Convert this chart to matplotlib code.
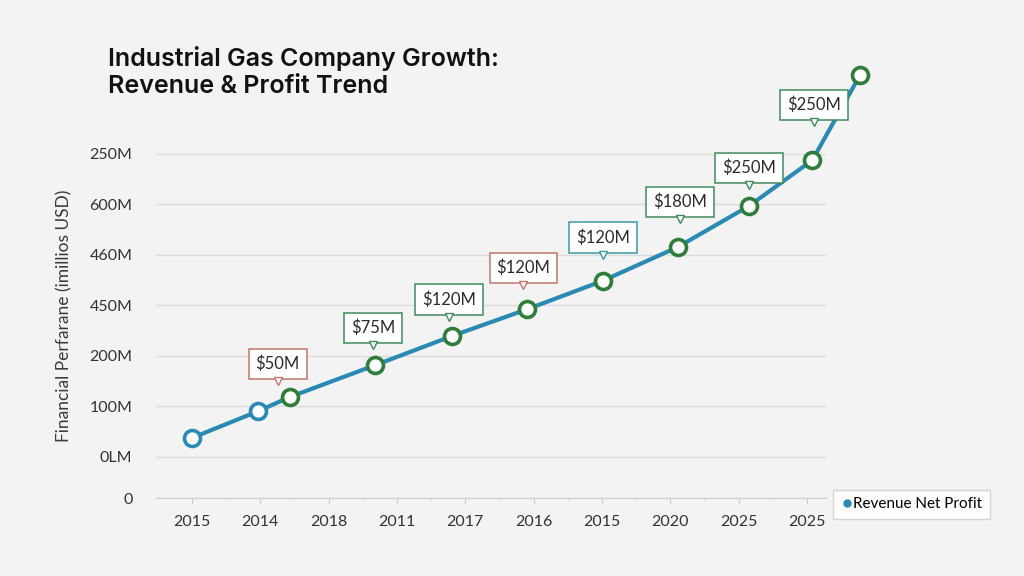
import matplotlib.pyplot as plt
import matplotlib.transforms as mtransforms
from matplotlib.lines import Line2D

# tick labels exactly as they read on the chart
year_labels = ['2015', '2014', '2018', '2011', '2017', '2016', '2015', '2020', '2025', '2025']
y_tick_pos = [0, 0.82, 1.82, 2.82, 3.82, 4.82, 5.82, 6.82]
y_tick_labels = ['0', '0LM', '100M', '200M', '450M', '460M', '600M', '250M']

# revenue points (x in tick-index units, y in gridline units)
rev_x = [0.0, 0.97, 1.43, 2.68, 3.81, 4.91, 6.01, 7.11, 8.15, 9.08, 9.78]
rev_y = [1.19, 1.72, 2.00, 2.63, 3.21, 3.74, 4.30, 4.97, 5.78, 6.69, 8.38]

# callouts attached to points 2..9
callout_idx = [2, 3, 4, 5, 6, 7, 8, 9]
callout_text = ['$50M', '$75M', '$120M', '$120M', '$120M', '$180M', '$250M', '$250M']
callout_kind = ['loss', 'gain', 'gain', 'loss', 'flat', 'gain', 'gain', 'gain']

BG = '#f3f3f3'
LINE = '#2a8ab4'
GREEN = '#2e7d3a'
kind_color = {'loss': '#c0766a', 'gain': '#3f8a5c', 'flat': '#3a9aa0'}

# pixel offsets of each pointer tip from its point (layout only)
tip_dx = [-12, -2, -3, -4, 0, 2, 0, 2]
tip_dy = [12, 16, 15, 20, 22, 24, 17, 34]

plt.rcParams['font.family'] = ['Lato', 'DejaVu Sans']

fig = plt.figure(figsize=(10.24, 5.76), dpi=100, facecolor=BG)
ax = fig.add_axes([156 / 1024, 1 - 498 / 576, 670 / 1024, 358 / 576])
ax.set_facecolor(BG)

ax.plot(rev_x, rev_y, color=LINE, lw=3, zorder=3, clip_on=False, solid_capstyle='round')
for i, (x, y) in enumerate(zip(rev_x, rev_y)):
    ec = LINE if i < 2 else GREEN
    ax.plot(x, y, 'o', ms=11.5, mfc='white', mec=ec, mew=2.6, zorder=4, clip_on=False)

for k, i in enumerate(callout_idx):
    col = kind_color[callout_kind[k]]
    ax.text(rev_x[i], rev_y[i], callout_text[k], transform=mtransforms.offset_copy(
                ax.transData, fig=fig, x=tip_dx[k], y=tip_dy[k] + 13, units='dots'),
            ha='center', va='bottom', fontsize=12, color='#2b2b2b', zorder=6,
            bbox=dict(boxstyle='square,pad=0.42', fc='white', ec=col, lw=1.1))
    ax.plot(rev_x[i], rev_y[i], marker='v', ms=6, mfc='white', mec=col, mew=1.0,
            transform=mtransforms.offset_copy(ax.transData, fig=fig, x=tip_dx[k],
                                              y=tip_dy[k] + 4, units='dots'),
            zorder=7, clip_on=False)

ax.set_yticks(y_tick_pos)
ax.set_yticklabels(y_tick_labels)
ax.set_xticks(range(len(year_labels)))
ax.set_xticklabels(year_labels)
ax.set_xticks([i + 0.5 for i in range(len(year_labels) - 1)], minor=True)
ax.tick_params(axis='y', length=0, pad=17, labelsize=11.5, labelcolor='#333333')
ax.tick_params(axis='x', which='major', length=4, color='#cccccc', pad=8,
               labelsize=11.5, labelcolor='#333333')
ax.tick_params(axis='x', which='minor', length=2, color='#dddddd')
ax.set_xlim(-0.527, 9.28)
ax.set_ylim(0, 7.09)

ax.grid(axis='y', color='#dcdcdc', lw=1)
ax.set_axisbelow(True)
for s in ['top', 'right', 'left']:
    ax.spines[s].set_visible(False)
ax.spines['bottom'].set_color('#cfcfcf')

ax.set_ylabel('Financial Perfarane (imillios USD)', fontsize=12.5, color='#3a3a3a')
ax.yaxis.set_label_coords(-84 / 670, (498 - 316) / 358)

fig.text(108 / 1024, 1 - 66 / 576, 'Industrial Gas Company Growth:',
         ha='left', va='baseline', fontsize=18, fontweight='semibold', family='Inter',
         color='#111111')
fig.text(108 / 1024, 1 - 93 / 576, 'Revenue & Profit Trend',
         ha='left', va='baseline', fontsize=18, fontweight='semibold', family='Inter',
         color='#111111')

handle = Line2D([], [], marker='o', ls='none', color=LINE, ms=5)
leg = fig.legend([handle], ['Revenue Net Profit'], loc='lower left',
                 bbox_to_anchor=(833 / 1024, 1 - 519 / 576), fontsize=11,
                 frameon=True, fancybox=False, handletextpad=0.0, handlelength=0.8,
                 borderpad=0.5, borderaxespad=0)
leg.get_frame().set_edgecolor('#cccccc')
leg.get_frame().set_facecolor('white')
leg.get_frame().set_linewidth(1)

fig.savefig('out.png', dpi=100, facecolor=BG)
